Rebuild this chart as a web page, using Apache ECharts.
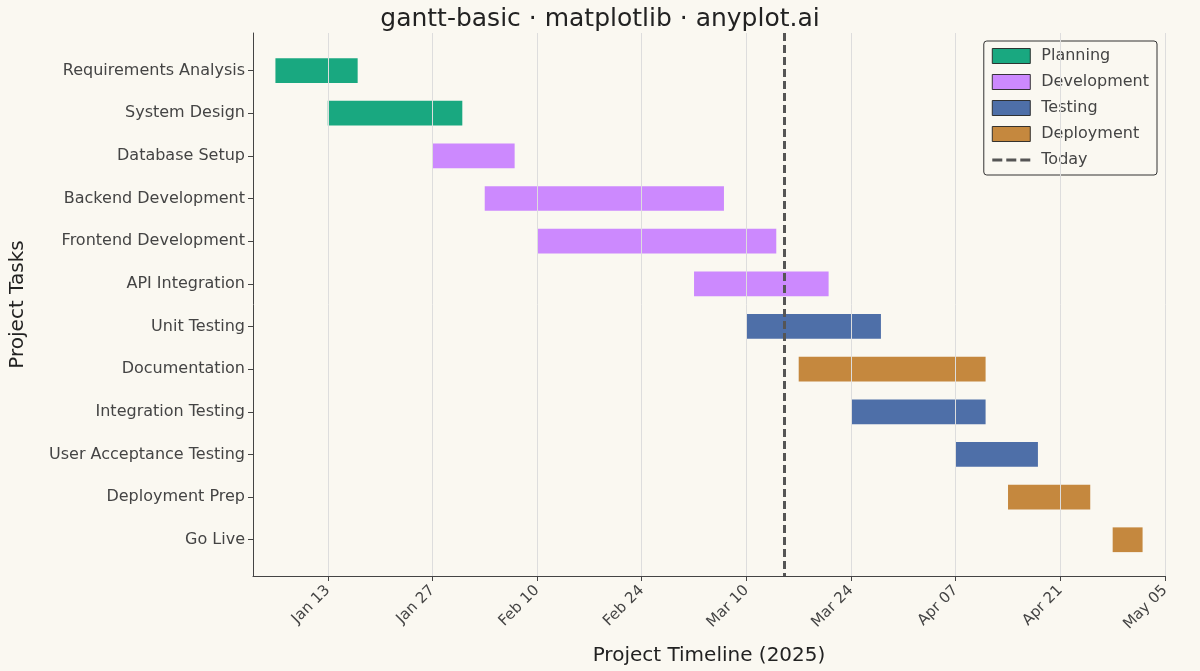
<!DOCTYPE html>
<html><head><meta charset="utf-8">
<script src="https://cdn.jsdelivr.net/npm/echarts@6/dist/echarts.min.js"></script>
<style>html,body{margin:0;background:#FAF8F1}#c{width:1200px;height:671px}</style>
</head><body><div id="c"></div>
<script>
const tasks = ["Requirements Analysis","System Design","Database Setup","Backend Development","Frontend Development","API Integration","Unit Testing","Documentation","Integration Testing","User Acceptance Testing","Deployment Prep","Go Live"];
const starts = ["2025-01-06","2025-01-13","2025-01-27","2025-02-03","2025-02-10","2025-03-03","2025-03-10","2025-03-17","2025-03-24","2025-04-07","2025-04-14","2025-04-28"];
const ends = ["2025-01-17","2025-01-31","2025-02-07","2025-03-07","2025-03-14","2025-03-21","2025-03-28","2025-04-11","2025-04-11","2025-04-18","2025-04-25","2025-05-02"];
const phases = ["Planning","Planning","Development","Development","Development","Development","Testing","Deployment","Testing","Testing","Deployment","Deployment"];
const phaseNames = ["Planning","Development","Testing","Deployment"];
const phaseColors = ["#009E73","#C77CFF","#3B5FA0","#BF7B2A"];
const tickLabels = ["Jan 13","Jan 27","Feb 10","Feb 24","Mar 10","Mar 24","Apr 07","Apr 21","May 05"];
const today = "2025-03-15";
const axisStart = "2025-01-03", axisEnd = "2025-05-05", origin = "2025-01-13";

const day = s => Math.round((Date.parse(s) - Date.parse(origin)) / 86400000);
const tickVals = tickLabels.map((_, i) => i * 14);
const taskIdx = tasks.map((_, i) => i);

const series = phaseNames.map((p, pi) => ({
  name: p, type: 'custom',
  itemStyle: {color: phaseColors[pi], opacity: 0.9},
  encode: {x: [0, 1], y: 2},
  renderItem: (params, api) => {
    const a = api.coord([api.value(0), api.value(2)]);
    const b = api.coord([api.value(1), api.value(2)]);
    const h = api.size([0, 0.58])[1];
    return {type: 'rect', shape: {x: a[0], y: a[1] - h / 2, width: b[0] - a[0], height: h},
      style: {fill: phaseColors[pi], opacity: 0.9}};
  },
  data: tasks.map((t, i) => phases[i] === p ? [day(starts[i]), day(ends[i]), i] : null).filter(Boolean),
  z: 3
}));
series.push({
  name: 'Today', type: 'line', data: [],
  lineStyle: {color: '#555', type: 'dashed', width: 3}, itemStyle: {color: '#555'},
  markLine: {silent: true, symbol: 'none', label: {show: false},
    lineStyle: {color: '#555', type: [8, 4], width: 3},
    data: [{xAxis: day(today)}]}, z: 5
});
series.push({
  type: 'line', data: [], silent: true,
  markLine: {silent: true, symbol: 'none', label: {show: false}, animation: false,
    lineStyle: {color: '#ddd', type: 'solid', width: 1},
    data: tickVals.map(v => ({xAxis: v}))}, z: 1
});

const chart = echarts.init(document.getElementById('c'));
chart.setOption({
  backgroundColor: '#FAF8F1', animation: false,
  title: {text: 'gantt-basic · matplotlib · anyplot.ai', left: 'center', top: 2,
    textStyle: {fontSize: 25, fontWeight: 'normal', color: '#222', fontFamily: 'DejaVu Sans'}},
  legend: {orient: 'vertical', right: 43, top: 41, padding: [7, 8, 7, 8],
    borderColor: '#333', borderWidth: 1, borderRadius: 3, backgroundColor: '#FAF8F1',
    itemWidth: 38, itemHeight: 15, itemGap: 10,
    textStyle: {fontSize: 16, color: '#444', fontFamily: 'DejaVu Sans', padding: [0, 0, 0, 6]},
    data: phaseNames.map(p => ({name: p, icon: 'rect', itemStyle: {borderColor: '#222', borderWidth: 1}}))
      .concat([{name: 'Today', icon: 'path://M0 0H10V3H0Z M14 0H24V3H14Z M28 0H38V3H28Z', itemStyle: {color: '#555'}}])},
  grid: {left: 245, right: 35, top: 33, bottom: 94},
  xAxis: {type: 'value', min: day(axisStart), max: day(axisEnd),
    name: 'Project Timeline (2025)', nameLocation: 'middle', nameGap: 70,
    nameTextStyle: {fontSize: 20, color: '#222', fontFamily: 'DejaVu Sans'},
    axisLine: {onZero: false, lineStyle: {color: '#444'}},
    splitLine: {show: false},
    axisTick: {customValues: tickVals, lineStyle: {color: '#444'}},
    axisLabel: {customValues: tickVals, rotate: 45, fontSize: 15, color: '#444', fontFamily: 'DejaVu Sans', margin: 12,
      formatter: v => tickLabels[Math.round(v / 14)] || ''}},
  yAxis: {type: 'value', min: -0.88, max: 11.85, inverse: true,
    name: 'Project Tasks', nameLocation: 'middle', nameGap: 225, nameRotate: 90,
    nameTextStyle: {fontSize: 20, color: '#222', fontFamily: 'DejaVu Sans'},
    axisLine: {show: true, onZero: false, lineStyle: {color: '#444'}},
    axisTick: {show: true, customValues: taskIdx, lineStyle: {color: '#444'}},
    axisLabel: {customValues: taskIdx, fontSize: 16, color: '#444', fontFamily: 'DejaVu Sans', margin: 8,
      formatter: v => tasks[Math.round(v)] || ''},
    splitLine: {show: false}},
  series
});
</script></body></html>
